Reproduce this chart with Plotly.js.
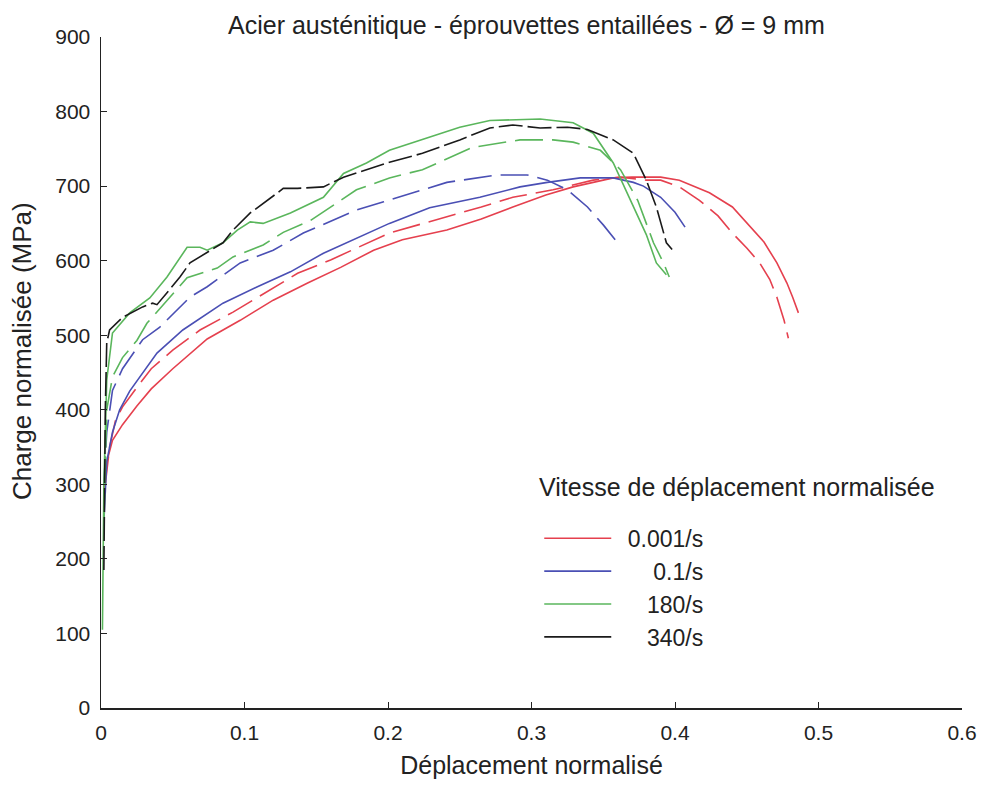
<!DOCTYPE html>
<html>
<head>
<meta charset="utf-8">
<script src="https://cdn.plot.ly/plotly-3.0.1.min.js"></script>
<style>html,body{margin:0;padding:0;background:#fff;}#chart{width:984px;height:785px;}</style>
</head>
<body>
<div id="chart"></div>
<script>
// Series: normalised displacement (x) vs normalised load in MPa (y)
const speedLabels = ["\u20020.001/s", "\u2002\u2007\u20070.1/s", "\u2002\u2007\u2008180/s", "\u2002\u2007\u2008340/s"];
const legendTitle = "Vitesse de déplacement normalisée";
const yTitle = "Charge normalisée (MPa)";

const red1X = [0.002,0.004,0.008,0.015,0.025,0.035,0.05,0.074,0.097,0.12,0.144,0.167,0.19,0.21,0.241,0.265,0.287,0.31,0.329,0.345,0.357,0.37,0.38,0.39,0.403,0.424,0.44,0.45,0.462,0.471,0.478,0.482,0.486];
const red1Y = [290,330,359,380,405,428,455,495,520,547,570,591,614,628,641,656,672,688,699,706,711,712,712,712,708,691,672,650,625,597,570,551,530];

const red2X = [0.003,0.006,0.01,0.015,0.025,0.035,0.05,0.069,0.092,0.109,0.137,0.16,0.178,0.201,0.241,0.265,0.287,0.315,0.343,0.362,0.38,0.39,0.403,0.417,0.43,0.44,0.45,0.459,0.466,0.471,0.476,0.479];
const red2Y = [300,350,385,404,430,455,480,507,531,551,583,601,617,637,659,672,685,695,708,712,708,708,699,681,660,637,617,597,575,551,520,496];

const blue1X = [0.002,0.004,0.008,0.013,0.02,0.03,0.039,0.057,0.085,0.109,0.132,0.155,0.178,0.201,0.229,0.264,0.292,0.311,0.334,0.357,0.371,0.378,0.39,0.4,0.407];
const blue1Y = [250,330,370,400,425,452,476,507,543,565,585,610,630,650,671,685,699,705,711,711,705,700,685,665,645];

const blue2X = [0.002,0.004,0.008,0.015,0.029,0.041,0.062,0.074,0.097,0.12,0.141,0.162,0.178,0.197,0.241,0.276,0.297,0.311,0.325,0.339,0.35,0.36];
const blue2Y = [300,370,426,455,494,511,551,565,597,614,637,654,668,679,705,715,715,708,695,672,648,624];

const green1X = [0.001,0.002,0.004,0.008,0.02,0.034,0.046,0.06,0.069,0.074,0.085,0.095,0.104,0.113,0.132,0.155,0.169,0.185,0.201,0.217,0.25,0.271,0.306,0.329,0.343,0.357,0.371,0.38,0.387,0.394];
const green1Y = [105,300,440,503,530,550,578,618,618,614,624,641,652,650,664,685,717,731,748,758,779,788,790,785,771,731,672,635,597,581];

const green2X = [0.002,0.004,0.008,0.015,0.025,0.032,0.048,0.06,0.081,0.092,0.113,0.127,0.146,0.16,0.178,0.201,0.224,0.259,0.292,0.315,0.329,0.348,0.362,0.374,0.385,0.392,0.396];
const green2Y = [250,400,444,470,493,516,551,577,590,605,621,638,654,672,695,711,722,752,762,762,759,748,722,681,624,597,578];

const blackX = [0.002,0.003,0.004,0.006,0.015,0.029,0.036,0.039,0.046,0.055,0.062,0.071,0.085,0.092,0.104,0.123,0.127,0.137,0.155,0.169,0.185,0.201,0.224,0.25,0.271,0.287,0.306,0.325,0.339,0.357,0.371,0.38,0.387,0.394,0.398];
const blackY = [185,400,490,507,524,538,543,541,557,578,597,608,624,641,664,691,697,697,699,712,722,732,744,762,778,782,778,779,776,762,744,708,672,624,615];

const colors = ["#e5404e", "#4a4fb4", "#5ab65c", "#1a1a1a"];
const dashPat = "28px,9px";

function tr(x, y, c, dash, name, show, group) {
  return {x: x, y: y, type: "scatter", mode: "lines", name: name, showlegend: show,
          legendgroup: group, line: {color: c, width: 1.6, dash: dash}, hoverinfo: "skip"};
}

const traces = [
  tr(red1X, red1Y, colors[0], "solid", speedLabels[0], true, "r"),
  tr(red2X, red2Y, colors[0], dashPat, speedLabels[0], false, "r"),
  tr(blue1X, blue1Y, colors[1], "solid", speedLabels[1], true, "b"),
  tr(blue2X, blue2Y, colors[1], dashPat, speedLabels[1], false, "b"),
  tr(green1X, green1Y, colors[2], "solid", speedLabels[2], true, "g"),
  tr(green2X, green2Y, colors[2], dashPat, speedLabels[2], false, "g"),
  tr(blackX, blackY, colors[3], "24px,5px", speedLabels[3], false, "k"),
  tr([null], [null], colors[3], "solid", speedLabels[3], true, "k")
];

const font = "'Liberation Sans', Arial, sans-serif";
const layout = {
  width: 984, height: 785,
  margin: {l: 101, r: 22, t: 37, b: 77},
  paper_bgcolor: "#fff", plot_bgcolor: "#fff",
  font: {family: font, color: "#222", size: 21},
  title: {text: "Acier austénitique - éprouvettes entaillées - Ø = 9 mm", font: {size: 25, color: "#222"},
          x: 0.535, xanchor: "center", y: 0.968, yanchor: "middle", yref: "container"},
  xaxis: {range: [0, 0.6], dtick: 0.1, tick0: 0, showgrid: false, zeroline: false,
          showline: true, linecolor: "#222", linewidth: 1.5, ticks: "inside", ticklen: 6, tickcolor: "#222",
          tickfont: {size: 21}, ticklabelstandoff: 5,
          title: {text: "Déplacement normalisé", font: {size: 25}, standoff: 14}},
  yaxis: {range: [0, 900], dtick: 100, tick0: 0, showgrid: false, zeroline: false,
          showline: true, linecolor: "#222", linewidth: 1.5, ticks: "inside", ticklen: 6, tickcolor: "#222",
          tickfont: {size: 21}, ticklabelstandoff: 5},
  annotations: [
    {text: yTitle, textangle: -90, xref: "paper", yref: "paper", x: -0.0918, y: 0.532,
     xanchor: "center", yanchor: "middle", showarrow: false, font: {size: 26, color: "#222"}},
    {text: legendTitle, xref: "paper", yref: "paper", x: 0.506, y: 0.329,
     xanchor: "left", yanchor: "middle", showarrow: false, font: {size: 25, color: "#222"}}
  ],
  showlegend: true,
  legend: {x: 0.509, y: 0.285, xanchor: "left", yanchor: "top", bgcolor: "rgba(0,0,0,0)", borderwidth: 0,
           font: {size: 23}, itemwidth: 67, tracegroupgap: 0}
};

Plotly.newPlot("chart", traces, layout, {displayModeBar: false, staticPlot: true});
</script>
</body>
</html>
